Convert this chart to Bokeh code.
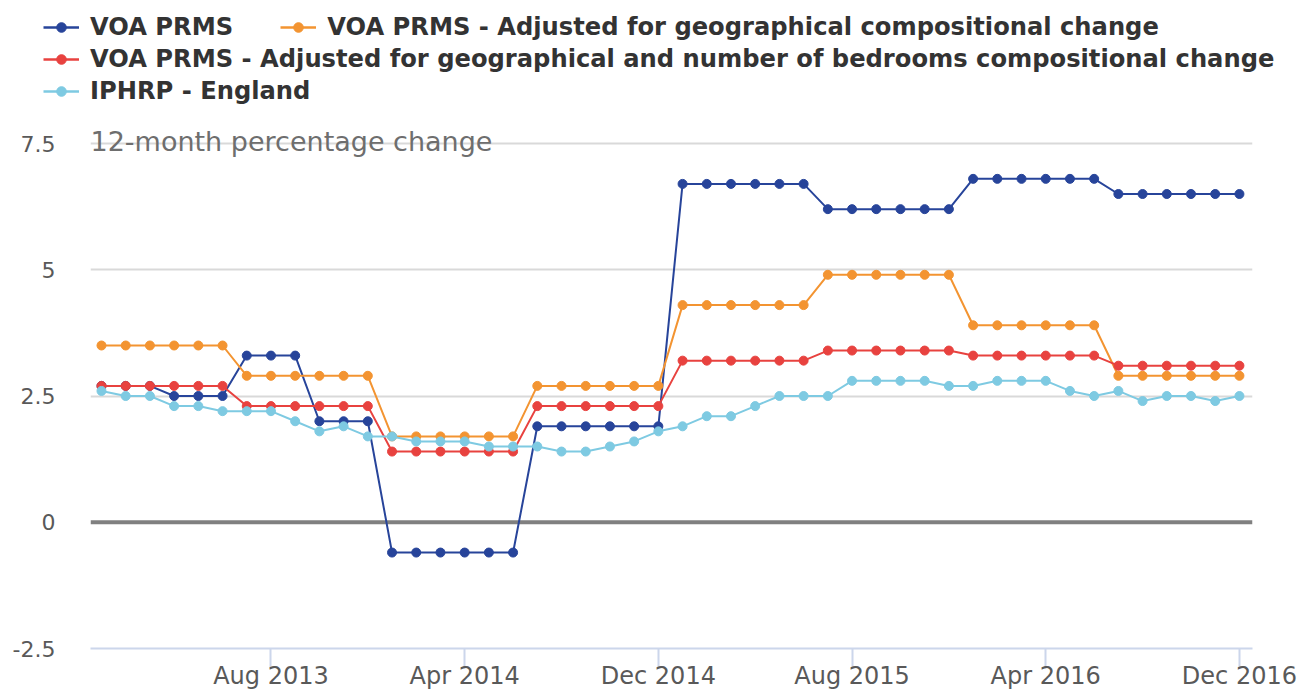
from bokeh.plotting import figure
from bokeh.layouts import column
from bokeh.models import (Range1d, FixedTicker, NumeralTickFormatter, Span,
                          Legend, LegendItem, Label)
from bokeh.embed import file_html
from bokeh.resources import INLINE

# ---------------- data ----------------
month_names = ["Jan", "Feb", "Mar", "Apr", "May", "Jun",
               "Jul", "Aug", "Sep", "Oct", "Nov", "Dec"]
years = [2013, 2014, 2015, 2016]
months = [f"{m} {y}" for y in years for m in month_names]

voa_prms = [2.7, 2.7, 2.7, 2.5, 2.5, 2.5, 3.3, 3.3, 3.3, 2.0, 2.0, 2.0,
            -0.6, -0.6, -0.6, -0.6, -0.6, -0.6, 1.9, 1.9, 1.9, 1.9, 1.9, 1.9,
            6.7, 6.7, 6.7, 6.7, 6.7, 6.7, 6.2, 6.2, 6.2, 6.2, 6.2, 6.2,
            6.8, 6.8, 6.8, 6.8, 6.8, 6.8, 6.5, 6.5, 6.5, 6.5, 6.5, 6.5]

voa_geo = [3.5, 3.5, 3.5, 3.5, 3.5, 3.5, 2.9, 2.9, 2.9, 2.9, 2.9, 2.9,
           1.7, 1.7, 1.7, 1.7, 1.7, 1.7, 2.7, 2.7, 2.7, 2.7, 2.7, 2.7,
           4.3, 4.3, 4.3, 4.3, 4.3, 4.3, 4.9, 4.9, 4.9, 4.9, 4.9, 4.9,
           3.9, 3.9, 3.9, 3.9, 3.9, 3.9, 2.9, 2.9, 2.9, 2.9, 2.9, 2.9]

voa_geo_bed = [2.7, 2.7, 2.7, 2.7, 2.7, 2.7, 2.3, 2.3, 2.3, 2.3, 2.3, 2.3,
               1.4, 1.4, 1.4, 1.4, 1.4, 1.4, 2.3, 2.3, 2.3, 2.3, 2.3, 2.3,
               3.2, 3.2, 3.2, 3.2, 3.2, 3.2, 3.4, 3.4, 3.4, 3.4, 3.4, 3.4,
               3.3, 3.3, 3.3, 3.3, 3.3, 3.3, 3.1, 3.1, 3.1, 3.1, 3.1, 3.1]

iphrp = [2.6, 2.5, 2.5, 2.3, 2.3, 2.2, 2.2, 2.2, 2.0, 1.8, 1.9, 1.7,
         1.7, 1.6, 1.6, 1.6, 1.5, 1.5, 1.5, 1.4, 1.4, 1.5, 1.6, 1.8,
         1.9, 2.1, 2.1, 2.3, 2.5, 2.5, 2.5, 2.8, 2.8, 2.8, 2.8, 2.7,
         2.7, 2.8, 2.8, 2.8, 2.6, 2.5, 2.6, 2.4, 2.5, 2.5, 2.4, 2.5]

series_names = ["VOA PRMS",
                "VOA PRMS - Adjusted for geographical compositional change",
                "VOA PRMS - Adjusted for geographical and number of bedrooms compositional change",
                "IPHRP - England"]
series_values = [voa_prms, voa_geo, voa_geo_bed, iphrp]
series_colors = ["#27449a", "#f39431", "#e8423f", "#7ecae2"]

x_tick_idx = [7, 15, 23, 31, 39, 47]
y_ticks = [-2.5, 0, 2.5, 5, 7.5]
y_title = "12-month percentage change"

FONT = "DejaVu Sans"
x = list(range(len(months)))

# ---------------- legend strip (top) ----------------
LEG_H = 112
pl = figure(width=1303, height=LEG_H, output_backend="svg", toolbar_location=None,
            x_range=Range1d(0, 1), y_range=Range1d(0, 1),
            x_axis_location=None, y_axis_location=None,
            min_border_left=0, min_border_right=0, min_border_top=0,
            min_border_bottom=0)
pl.frame_align = False
pl.outline_line_color = None
pl.grid.visible = False

items = []
for name, vals, col in zip(series_names, series_values, series_colors):
    # hidden renderers: only used to draw the legend symbols
    lr = pl.line(x, vals, line_color=col, line_width=2.5, visible=False)
    sr = pl.scatter(x, vals, size=10, fill_color=col, line_color=col,
                    visible=False)
    items.append(LegendItem(label=name, renderers=[lr, sr]))

common = dict(glyph_width=36, glyph_height=24, label_height=24,
              label_standoff=11, padding=0, margin=0,
              border_line_alpha=0, background_fill_alpha=0,
              inactive_fill_alpha=0,
              label_text_font=FONT, label_text_font_size="24.2px",
              label_text_font_style="bold", label_text_color="#333333")
leg1 = Legend(items=items[0:2], orientation="horizontal", spacing=47,
              location=(43, 71), **common)
leg2 = Legend(items=[items[2]], location=(43, 39), **common)
leg3 = Legend(items=[items[3]], location=(43, 7), **common)
for lg in (leg1, leg2, leg3):
    pl.add_layout(lg)

# ---------------- main chart ----------------
MAIN_H = 693 - LEG_H
y_end = -2.5 + (648 - LEG_H) / 50.5   # frame reaches to the top of this figure

p = figure(width=1303, height=MAIN_H, output_backend="svg", toolbar_location=None,
           x_range=Range1d(-0.454, 47.54), y_range=Range1d(-2.5, y_end),
           min_border_left=90, min_border_right=51, min_border_top=0,
           min_border_bottom=45)
p.frame_align = False
p.outline_line_color = None

# y axis
p.yaxis.ticker = FixedTicker(ticks=y_ticks)
p.yaxis.formatter = NumeralTickFormatter(format="0.[0]")
p.yaxis.axis_line_color = None
p.yaxis.major_tick_line_color = None
p.yaxis.minor_tick_line_color = None
p.yaxis.major_tick_out = 0
p.yaxis.major_tick_in = 0
p.yaxis.major_label_standoff = 35
p.yaxis.major_label_text_font = FONT
p.yaxis.major_label_text_font_size = "22px"
p.yaxis.major_label_text_color = "#595959"

# x axis
p.xaxis.ticker = FixedTicker(ticks=x_tick_idx)
p.xaxis.major_label_overrides = {i: months[i] for i in x_tick_idx}
p.xaxis.axis_line_color = "#ccd6eb"
p.xaxis.axis_line_width = 2
p.xaxis.major_tick_line_color = "#ccd6eb"
p.xaxis.major_tick_line_width = 2
p.xaxis.major_tick_in = 0
p.xaxis.major_tick_out = 20
p.xaxis.minor_tick_line_color = None
p.xaxis.major_label_standoff = -7
p.xaxis.major_label_text_font = FONT
p.xaxis.major_label_text_font_size = "24px"
p.xaxis.major_label_text_color = "#595959"

# grids
p.xgrid.visible = False
p.ygrid.ticker = FixedTicker(ticks=[2.5, 5, 7.5])
p.ygrid.grid_line_color = "#d9d9d9"
p.ygrid.grid_line_width = 2

p.add_layout(Span(location=0, dimension="width", line_color="#808080",
                  line_width=4, level="underlay"))

for vals, col in zip(series_values, series_colors):
    p.line(x, vals, line_color=col, line_width=2)
    p.scatter(x, vals, size=9, fill_color=col, line_color=col)

p.add_layout(Label(x=0, y=507, x_units="screen", y_units="screen",
                   text=y_title, text_font=FONT, text_font_size="27px",
                   text_color="#6e6e6e", text_baseline="alphabetic",
                   text_align="left"))

open("out.html", "w").write(file_html(column(pl, p, spacing=0), INLINE))
